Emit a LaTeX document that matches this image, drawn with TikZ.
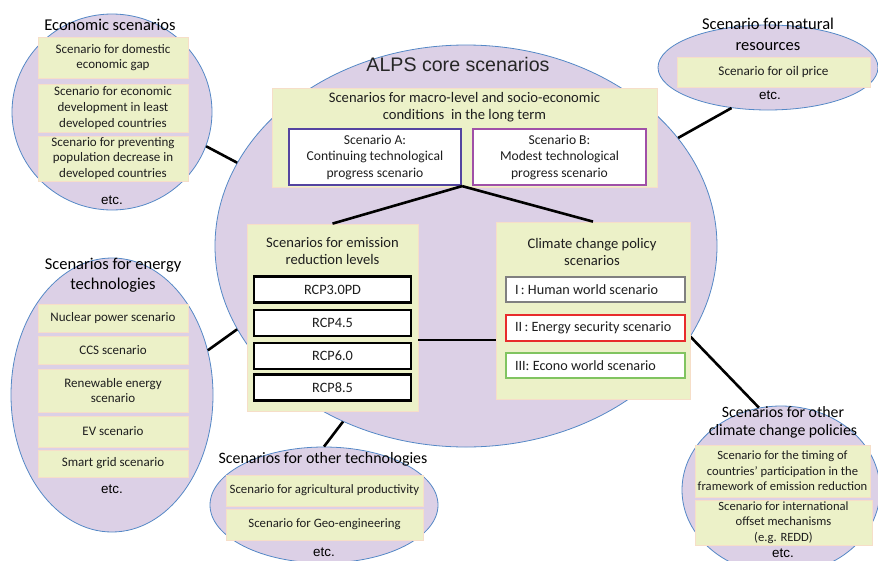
\documentclass[tikz,border=0pt]{standalone}
\usepackage{fontspec}
\setmainfont{Carlito}
\newfontfamily\arialf{Liberation Sans}
\usetikzlibrary{shapes.geometric}
\definecolor{lav}{RGB}{220,208,230}
\definecolor{lavedge}{RGB}{84,136,198}
\definecolor{ybfill}{RGB}{236,241,200}
\definecolor{ybedge}{RGB}{246,222,200}
\definecolor{acol}{RGB}{84,68,160}
\definecolor{bcol}{RGB}{160,80,168}
\definecolor{icol}{RGB}{128,128,128}
\definecolor{iicol}{RGB}{232,44,44}
\definecolor{iiicol}{RGB}{128,196,96}
\definecolor{txt}{RGB}{30,30,30}
\hbadness=10000 \hfuzz=100pt
\tikzset{
  bubble/.style={ellipse, draw=lavedge, fill=lav, line width=0.8pt, inner sep=0pt},
  ybox/.style={rectangle, fill=ybfill, draw=ybedge, line width=0.8pt, align=center, inner sep=0pt, text=txt, font=\fontsize{13}{15.7}\selectfont},
  wbox/.style={rectangle, fill=white, line width=2.2pt, align=center, inner sep=0pt, text=txt, font=\fontsize{13.6}{16.5}\selectfont},
  polbox/.style={rectangle, fill=white, line width=2.2pt, align=flush left, text width=161pt, inner xsep=9pt, inner ysep=0pt, text=txt, minimum width=179pt, font=\fontsize{14.2}{16}\selectfont},
  rcpbox/.style={rectangle, fill=white, draw=black, line width=2.8pt, align=center, inner sep=0pt, text=txt, minimum width=157pt, minimum height=26pt, font=\fontsize{14.3}{16}\selectfont},
  ttl/.style={align=center, inner sep=0pt, text=black, font=\fontsize{16.5}{20.5}\selectfont},
  subttl/.style={align=center, inner sep=0pt, text=txt, font=\fontsize{14.6}{17}\selectfont},
  etc/.style={inner sep=0pt, text=black, font=\arialf\fontsize{13.4}{15}\selectfont},
  link/.style={draw=black, line width=2.6pt}
}
\begin{document}
\begin{tikzpicture}[x=1pt,y=-1pt]
\useasboundingbox (0,0) rectangle (878,560);
% ellipses
\node[bubble, minimum width=502pt, minimum height=402pt] (core) at (466,246) {};
\node[bubble, minimum width=200pt, minimum height=196pt] (econ) at (112,112) {};
\node[bubble, minimum width=220pt, minimum height=85pt] (nat) at (768,67.5) {};
\node[bubble, minimum width=202pt, minimum height=274pt] (ener) at (112,395) {};
\node[bubble, minimum width=228pt, minimum height=116pt] (otech) at (324,505) {};
\node[bubble, minimum width=198pt, minimum height=168pt] (oclim) at (781,490) {};
% connectors between ellipses
\draw[link] (econ.-20) -- (core.160.5);
\draw[link] (nat.228.6) -- (core.27.4);
\draw[link] (ener.25) -- (core.200.8);
\draw[link] (otech.90) -- (core.235.6);
\draw[link] (core.338.2) -- (oclim.105.3);
% economic
\node[ttl] (econt) at (110,25) {Economic scenarios};
\node[ybox, minimum width=150pt, minimum height=41pt] (ec1) at (113,57.5) {Scenario for domestic\\economic gap};
\node[ybox, minimum width=150pt, minimum height=48pt] (ec2) at (113,108) {Scenario for economic\\development in least\\developed countries};
\node[ybox, minimum width=150pt, minimum height=45pt] (ec3) at (113,158.5) {Scenario for preventing\\population decrease in\\developed countries};
\node[etc] (ecetc) at (112,200) {etc.};
% natural
\node[ttl, font=\fontsize{16.5}{21}\selectfont] (natt) at (768,34.5) {Scenario for natural\\resources};
\node[ybox, minimum width=193pt, minimum height=30pt, font=\fontsize{13.2}{15}\selectfont] (nat1) at (773.5,72) {Scenario for oil price};
\node[etc] (natetc) at (770,95) {etc.};
% core
\node[inner sep=0pt, font=\arialf\fontsize{19.6}{22}\selectfont, text=black!85] (coret) at (458,64) {ALPS core scenarios};
\node[ybox, minimum width=385pt, minimum height=99pt] (macro) at (464.5,137.5) {};
\node[subttl] (macrot) at (464.5,107.5) {Scenarios for macro-level and socio-economic\\conditions\ \ in the long term};
\node[wbox, draw=acol, minimum width=172pt, minimum height=56pt] (sa) at (375,157) {Scenario A:\\Continuing technological\\progress scenario};
\node[wbox, draw=bcol, minimum width=173pt, minimum height=56pt] (sb) at (559.5,157) {Scenario B:\\Modest technological\\progress scenario};
\node[ybox, minimum width=171pt, minimum height=187pt] (emis) at (332.5,317.5) {};
\node[subttl] (emist) at (332.5,251.5) {Scenarios for emission\\reduction levels};
\node[rcpbox] (r1) at (332.5,289.5) {RCP3.0PD};
\node[rcpbox] (r2) at (332.5,323) {RCP4.5};
\node[rcpbox] (r3) at (332.5,356) {RCP6.0};
\node[rcpbox] (r4) at (332.5,387.5) {RCP8.5};
\node[ybox, minimum width=194pt, minimum height=177pt] (clim) at (593,310.5) {};
\node[subttl] (climt) at (592,251.5) {Climate change policy\\scenarios};
\node[polbox, draw=icol, minimum height=25pt] (p1) at (595.5,289.5) {\mbox{I\,: Human world scenario}};
\node[polbox, draw=iicol, minimum height=26pt] (p2) at (595.5,328) {\mbox{II\,: Energy security scenario}};
\node[polbox, draw=iiicol, minimum height=25pt] (p3) at (595.5,365.5) {\mbox{III: Econo world scenario}};
\draw[link] (sa.south east) -- (emis.north);
\draw[link] (sa.south east) -- (clim.north);
\coordinate (lk) at ([yshift=-22.5pt]emis.east);
\draw[link] (lk) -- (lk -| clim.west);
% energy
\node[ttl, font=\fontsize{16.5}{20}\selectfont] (enert) at (113,275) {Scenarios for energy\\technologies};
\node[ybox, minimum width=150pt, minimum height=28pt] (en1) at (113,318) {Nuclear power\ scenario};
\node[ybox, minimum width=150pt, minimum height=28pt] (en2) at (113,350) {CCS scenario};
\node[ybox, minimum width=150pt, minimum height=43pt, font=\fontsize{13}{15}\selectfont] (en3) at (113,390.5) {Renewable energy\\scenario};
\node[ybox, minimum width=150pt, minimum height=31pt] (en4) at (113,431.5) {EV scenario};
\node[ybox, minimum width=150pt, minimum height=27pt] (en5) at (113,463.5) {Smart grid scenario};
\node[etc] (enetc) at (112,489) {etc.};
% other technologies
\node[ttl, font=\fontsize{15.9}{18}\selectfont] (otecht) at (323,459) {Scenarios for other technologies};
\node[ybox, minimum width=197pt, minimum height=31pt, font=\fontsize{12.8}{15}\selectfont] (ot1) at (324.5,490.5) {Scenario for agricultural productivity};
\node[ybox, minimum width=197pt, minimum height=31pt, font=\fontsize{12.8}{15}\selectfont] (ot2) at (324.5,524.5) {Scenario for Geo-engineering};
\node[etc] (otetc) at (324,552) {etc.};
% other climate policies
\node[ttl, font=\fontsize{15.8}{18.5}\selectfont] (oclimt) at (783,422.5) {Scenarios for other\\climate change policies};
\node[ybox, minimum width=175pt, minimum height=52pt, font=\fontsize{12.6}{15.5}\selectfont] (oc1) at (782.5,471) {Scenario for the timing of\\countries' participation in the\\framework of emission reduction};
\node[ybox, minimum width=177pt, minimum height=45pt, font=\fontsize{12.6}{15.5}\selectfont] (oc2) at (783.5,522.5) {Scenario for international\\offset mechanisms\\(e.g. REDD)};
\node[etc] (ocetc) at (783,553) {etc.};
\end{tikzpicture}
\end{document}
